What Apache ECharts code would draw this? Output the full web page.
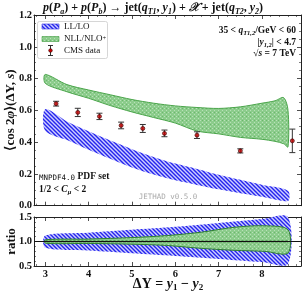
<!DOCTYPE html>
<html><head><meta charset="utf-8">
<script src="https://cdn.jsdelivr.net/npm/echarts@6/dist/echarts.min.js"></script>
<style>html,body{margin:0;padding:0;background:#fff}#c{width:306px;height:293px}</style>
</head><body><div id="c"></div>
<script>
// ---- data ----
const llX     = [3.0, 3.5, 4.0, 4.5, 5.0, 5.5, 6.0, 6.5, 7.0, 7.5, 8.0, 8.6];
const llHigh  = [0.607, 0.530, 0.468, 0.410, 0.356, 0.307, 0.265, 0.231, 0.195, 0.163, 0.132, 0.094];
const llLow   = [0.472, 0.413, 0.352, 0.295, 0.240, 0.196, 0.160, 0.131, 0.103, 0.078, 0.056, 0.030];

const nllX    = [3.0, 3.5, 4.0, 4.5, 5.0, 5.5, 6.0, 6.5, 7.0, 7.5, 8.0, 8.3, 8.5, 8.6];
const nllHigh = [0.826, 0.762, 0.728, 0.698, 0.668, 0.645, 0.628, 0.618, 0.612, 0.622, 0.645, 0.660, 0.680, 0.600];
const nllLow  = [0.770, 0.717, 0.676, 0.630, 0.590, 0.555, 0.520, 0.470, 0.452, 0.430, 0.418, 0.405, 0.390, 0.370];

const cmsX    = [3.25, 3.75, 4.25, 4.75, 5.25, 5.75, 6.5, 7.5, 8.7];
const cmsY    = [0.642, 0.587, 0.562, 0.505, 0.486, 0.455, 0.444, 0.345, 0.408];
const cmsErr  = [0.015, 0.026, 0.020, 0.021, 0.025, 0.021, 0.021, 0.013, 0.074];

const rLlX    = [3.0, 4.0, 5.0, 6.0, 7.0, 8.0, 8.6];
const rLlHigh = [1.12, 1.18, 1.24, 1.30, 1.38, 1.46, 1.50];
const rLlLow  = [0.87, 0.815, 0.76, 0.705, 0.645, 0.58, 0.54];

const rNllX    = [3.0, 4.0, 5.0, 5.8, 6.6, 7.36, 8.05, 8.6];
const rNllHigh = [1.035, 1.05, 1.08, 1.12, 1.19, 1.29, 1.32, 1.24];
const rNllLow  = [0.965, 0.96, 0.945, 0.92, 0.86, 0.82, 0.80, 0.765];
const rCentral = [1.0, 1.0];
const rCentralX = [3.0, 8.6];

const xTicks = [3, 4, 5, 6, 7, 8];

// ---- patterns ----
function hatchCanvas(){
  const c=document.createElement('canvas'); c.width=4; c.height=4;
  const g=c.getContext('2d');
  g.fillStyle='#cfcfff'; g.fillRect(0,0,4,4);
  g.strokeStyle='#2424ee'; g.lineWidth=1.4;
  g.beginPath();
  g.moveTo(-1,-1); g.lineTo(5,5);
  g.moveTo(-1,3); g.lineTo(1,5);
  g.moveTo(3,-1); g.lineTo(5,1);
  g.stroke();
  return c;
}
function dotCanvas(){
  const c=document.createElement('canvas'); c.width=4; c.height=4;
  const g=c.getContext('2d');
  g.fillStyle='#8ccc8c'; g.fillRect(0,0,4,4);
  g.fillStyle='#b8e2b8'; g.fillRect(0,0,1,1); g.fillRect(2,2,1,1);
  g.fillStyle='#6cb86c'; g.fillRect(2,0,1,1);
  return c;
}
const bluePat = {image: hatchCanvas(), repeat:'repeat'};
const greenPat = {image: dotCanvas(), repeat:'repeat'};

function band(xs, lo, hi, fill, stroke, xi, yi, z){
  return {
    type:'custom', xAxisIndex:xi, yAxisIndex:yi, z:z, silent:true,
    data:[[xs[0], lo[0]]],
    renderItem:function(params, api){
      const pts=[];
      for(let i=0;i<xs.length;i++) pts.push(api.coord([xs[i], hi[i]]));
      for(let i=xs.length-1;i>=0;i--) pts.push(api.coord([xs[i], lo[i]]));
      return {type:'polygon', shape:{points:pts, smooth:0.3},
        style:{fill:fill, stroke:stroke, lineWidth:stroke==='none'?0:1}};
    }
  };
}

const chart = echarts.init(document.getElementById('c'), null, {renderer:'canvas'});
const FONT = 'Liberation Serif';
const tickFont = {fontFamily:FONT, fontWeight:'bold', fontSize:10.5, color:'#111'};
const xMin = 2.74, xMax = 8.9;

function xAx(gi, pos, labels){
  return {type:'value', gridIndex:gi, position:pos, min:xMin, max:xMax,
    axisLine:{show:true, onZero:false, lineStyle:{color:'#222', width:1}},
    axisTick:{show:true, inside:true, length:4, lineStyle:{color:'#222', width:0.8}},
    minorTick:{show:true, splitNumber:5, length:2, lineStyle:{color:'#222', width:0.6}},
    splitLine:{show:false},
    axisLabel:Object.assign({show:labels, margin:3, showMinLabel:false, showMaxLabel:false}, tickFont)};
}
function yAx(gi, pos, labels, min, max, interval, minorSplit){
  return {type:'value', gridIndex:gi, position:pos, min:min, max:max, interval:interval,
    axisLine:{show:true, onZero:false, lineStyle:{color:'#222', width:1}},
    axisTick:{show:true, inside:true, length:4, lineStyle:{color:'#222', width:0.8}},
    minorTick:{show:true, splitNumber:minorSplit, length:2, lineStyle:{color:'#222', width:0.6}},
    splitLine:{show:false},
    axisLabel:Object.assign({show:labels, margin:2,
      formatter:function(v){return v.toFixed(1);}}, tickFont)};
}

const option = {
  animation:false,
  backgroundColor:'#fff',
  grid:[
    {left:34, right:5, top:15, height:190.7},
    {left:34, right:5, top:217, height:49}
  ],
  xAxis:[xAx(0,'bottom',false), xAx(0,'top',false), xAx(1,'bottom',true), xAx(1,'top',false)],
  yAxis:[yAx(0,'left',true,0,1.2,0.2,4), yAx(0,'right',false,0,1.2,0.2,4),
         yAx(1,'left',true,0.5,1.5,0.5,5), yAx(1,'right',false,0.5,1.5,0.5,5)],
  series:[
    band(llX, llLow, llHigh, bluePat, 'none', 0, 0, 2),
    band(nllX, nllLow, nllHigh, greenPat, '#4aa54a', 0, 0, 3),
    {
      type:'custom', xAxisIndex:0, yAxisIndex:0, z:5, silent:true,
      data:cmsX.map((x,i)=>[x, cmsY[i], cmsErr[i]]),
      renderItem:function(params, api){
        const x=api.value(0), y=api.value(1), e=api.value(2);
        const top=api.coord([x,y+e]), bot=api.coord([x,y-e]);
        const st={stroke:'#333', lineWidth:1};
        return {type:'group', children:[
          {type:'line', shape:{x1:top[0],y1:top[1],x2:bot[0],y2:bot[1]}, style:st},
          {type:'line', shape:{x1:top[0]-3,y1:top[1],x2:top[0]+3,y2:top[1]}, style:st},
          {type:'line', shape:{x1:bot[0]-3,y1:bot[1],x2:bot[0]+3,y2:bot[1]}, style:st}
        ]};
      }
    },
    {
      type:'scatter', xAxisIndex:0, yAxisIndex:0, z:6, silent:true,
      symbol:'circle', symbolSize:4,
      itemStyle:{color:'#c80000', borderColor:'#3a0000', borderWidth:0.8},
      data:cmsX.map((x,i)=>[x, cmsY[i]])
    },
    band(rLlX, rLlLow, rLlHigh, bluePat, 'none', 2, 2, 2),
    band(rNllX, rNllLow, rNllHigh, greenPat, '#2f7f2f', 2, 2, 3),
    {
      type:'line', xAxisIndex:2, yAxisIndex:2, z:4, silent:true, symbol:'none',
      lineStyle:{color:'#1f6a1f', width:1.5},
      data:rCentralX.map((x,i)=>[x, rCentral[i]]),
      markLine:{silent:true, symbol:'none', label:{show:false},
        lineStyle:{color:'#111', width:1, type:'solid'},
        data:[{yAxis:1.0}]}
    }
  ],
  graphic:[
    // title
    {type:'text', left:'center', top:2, z:10, style:{
      text:'{i|p}({i|P}{s|a}) + {i|p}({i|P}{s|b}) → jet({i|q}{s|T1}, {i|y}{s|1}) + {i|𝒳} + jet({i|q}{s|T2}, {i|y}{s|2})',
      fill:'#111', font:'bold 12px "Liberation Serif"',
      rich:{
        i:{fontFamily:FONT, fontWeight:'bold', fontStyle:'italic', fontSize:12, lineHeight:15},
        s:{fontFamily:FONT, fontWeight:'bold', fontStyle:'italic', fontSize:8, lineHeight:9, verticalAlign:'bottom'}
      }}},
    // y-axis title
    {type:'text', x:4, y:110, rotation:Math.PI/2, z:10, style:{
      text:'⟨cos 2{i|φ}⟩(ΔY, {i|s})', fill:'#111', font:'bold 13px "Liberation Serif"',
      align:'center', verticalAlign:'top',
      rich:{i:{fontFamily:FONT, fontWeight:'bold', fontStyle:'italic', fontSize:13}}}},
    {type:'text', x:5, y:241.5, rotation:Math.PI/2, z:10, style:{
      text:'ratio', fill:'#111', font:'bold 13px "Liberation Serif"',
      align:'center', verticalAlign:'top'}},
    // x-axis title
    {type:'text', x:168, y:276, z:10, style:{
      text:'ΔY = {i|y}{s|1} − {i|y}{s|2}', fill:'#111', font:'bold 14px "Liberation Serif"',
      align:'center', verticalAlign:'top',
      rich:{
        i:{fontFamily:FONT, fontWeight:'bold', fontStyle:'italic', fontSize:14, lineHeight:16},
        s:{fontFamily:FONT, fontWeight:'bold', fontSize:9, lineHeight:10, verticalAlign:'bottom'}
      }}},
    // right annotations
    {type:'text', x:296, y:25, z:10, style:{
      text:'35 < {i|q}{s|T1,2}/GeV < 60', fill:'#111', font:'bold 9.5px "Liberation Serif"',
      align:'right', verticalAlign:'top',
      rich:{
        i:{fontFamily:FONT, fontWeight:'bold', fontStyle:'italic', fontSize:9.5, lineHeight:12},
        s:{fontFamily:FONT, fontWeight:'bold', fontStyle:'italic', fontSize:6.5, lineHeight:7, verticalAlign:'bottom'}
      }}},
    {type:'text', x:296, y:37, z:10, style:{
      text:'|{i|y}{s|1,2}| < 4.7', fill:'#111', font:'bold 9.5px "Liberation Serif"',
      align:'right', verticalAlign:'top',
      rich:{
        i:{fontFamily:FONT, fontWeight:'bold', fontStyle:'italic', fontSize:9.5, lineHeight:12},
        s:{fontFamily:FONT, fontWeight:'bold', fontStyle:'italic', fontSize:6.5, lineHeight:7, verticalAlign:'bottom'}
      }}},
    {type:'text', x:296, y:47.5, z:10, style:{
      text:'√{o|s} = 7 TeV', fill:'#111', font:'bold 9.5px "Liberation Serif"',
      align:'right', verticalAlign:'top',
      rich:{o:{fontFamily:FONT, fontWeight:'bold', fontStyle:'italic', fontSize:9.5, lineHeight:12}}}},
    // bottom-left annotations
    {type:'text', x:39, y:171, z:10, style:{
      text:'{m|MNPDF4.0} PDF set', fill:'#111', font:'bold 9.5px "Liberation Serif"',
      align:'left', verticalAlign:'top',
      rich:{m:{fontFamily:'DejaVu Sans Mono', fontSize:7.5, lineHeight:11, verticalAlign:'bottom'}}}},
    {type:'text', x:39, y:184, z:10, style:{
      text:'1/2 < {i|C}{s|μ} < 2', fill:'#111', font:'bold 9.5px "Liberation Serif"',
      align:'left', verticalAlign:'top',
      rich:{
        i:{fontFamily:FONT, fontWeight:'bold', fontStyle:'italic', fontSize:9.5, lineHeight:12},
        s:{fontFamily:FONT, fontWeight:'bold', fontStyle:'italic', fontSize:6.5, lineHeight:7, verticalAlign:'bottom'}
      }}},
    {type:'text', x:168, y:193.5, z:10, style:{
      text:'JETHAD v0.5.0', fill:'#aaaaaa', font:'7.5px "DejaVu Sans Mono"',
      align:'center', verticalAlign:'top'}},
    // legend
    {type:'rect', z:9, shape:{x:37.5, y:21.5, width:70, height:37, r:2},
      style:{fill:'rgba(255,255,255,0.9)', stroke:'#cccccc', lineWidth:0.8}},
    {type:'rect', z:10, shape:{x:42, y:24, width:17, height:5},
      style:{fill:bluePat, stroke:'#3030e0', lineWidth:0.6}},
    {type:'rect', z:10, shape:{x:42, y:36.5, width:17, height:5},
      style:{fill:greenPat, stroke:'#3e9a3e', lineWidth:0.6}},
    {type:'line', z:10, shape:{x1:50.5, y1:45.5, x2:50.5, y2:55.5}, style:{stroke:'#333', lineWidth:1}},
    {type:'line', z:10, shape:{x1:48, y1:45.5, x2:53, y2:45.5}, style:{stroke:'#333', lineWidth:1}},
    {type:'line', z:10, shape:{x1:48, y1:55.5, x2:53, y2:55.5}, style:{stroke:'#333', lineWidth:1}},
    {type:'circle', z:11, shape:{cx:50.5, cy:50.5, r:1.8}, style:{fill:'#c80000', stroke:'#3a0000', lineWidth:0.6}},
    {type:'text', x:64, y:26.5, z:10, style:{text:'LL/LO', fill:'#111', font:'9px "Liberation Serif"', align:'left', verticalAlign:'middle'}},
    {type:'text', x:64, y:39, z:10, style:{text:'NLL/NLO{p|+}', fill:'#111', font:'9px "Liberation Serif"', align:'left', verticalAlign:'middle',
      rich:{p:{fontFamily:FONT, fontSize:6.5, lineHeight:7, verticalAlign:'top'}}}},
    {type:'text', x:64, y:51, z:10, style:{text:'CMS data', fill:'#111', font:'9px "Liberation Serif"', align:'left', verticalAlign:'middle'}}
  ]
};
chart.setOption(option);
</script>
</body></html>
